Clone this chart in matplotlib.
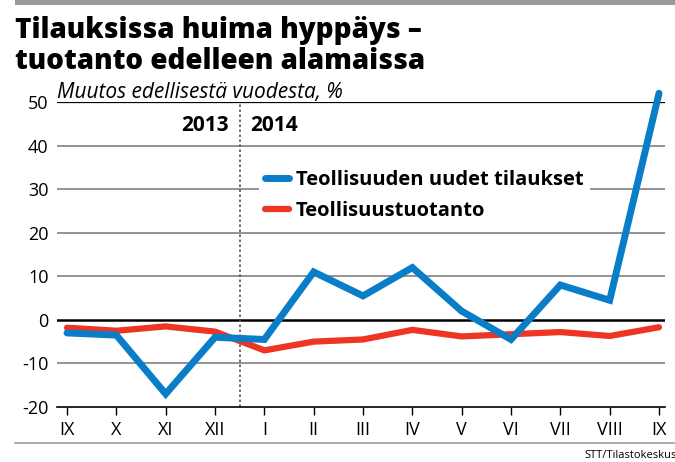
import matplotlib
matplotlib.use("Agg")
import matplotlib.pyplot as plt
from matplotlib.lines import Line2D

# kuukaudet IX/2013 - IX/2014
months = ["IX", "X", "XI", "XII", "I", "II", "III", "IV", "V", "VI", "VII", "VIII", "IX"]
tilaukset = [-3, -3.5, -17, -4, -4.5, 11, 5.5, 12, 2, -4.5, 8, 4.5, 52]
tuotanto = [-1.8, -2.5, -1.5, -2.7, -7, -5, -4.5, -2.3, -3.8, -3.3, -2.8, -3.7, -1.7]
yticks = [-20, -10, 0, 10, 20, 30, 40, 50]

BLUE = "#0a7dc8"
RED = "#ee3524"
GRID = "#8a8a8a"

plt.rcParams['font.family'] = ['Open Sans', 'DejaVu Sans']

fig = plt.figure(figsize=(6.75, 4.62), dpi=100)
ax = fig.add_axes([57/675, 1-407/462, (665-57)/675, (407-102)/462])

x = list(range(len(months)))

# ruudukko
for v in yticks:
    if v == 0:
        ax.axhline(v, color="black", lw=1.8, zorder=1)
    elif v == 50:
        ax.axhline(v, color="black", lw=0.9, zorder=1)
    elif v != -20:
        ax.axhline(v, color=GRID, lw=1.3, zorder=1)

ax.axvline(3.5, color="#555555", lw=1.2, ls=(0, (1.5, 1.5)), zorder=1)

ax.plot(x, tuotanto, color=RED, lw=4.5, solid_joinstyle="miter", solid_capstyle="round", zorder=3, clip_on=False)
ax.plot(x, tilaukset, color=BLUE, lw=5, solid_joinstyle="miter", solid_capstyle="round", zorder=4, clip_on=False)

ax.set_xlim(-10/49.33, 12 + 6/49.33)
ax.set_ylim(-20, 50)
ax.set_xticks(x)
ax.set_xticklabels(months, fontsize=13)
ax.set_yticks(yticks)
ax.set_yticklabels([str(v) for v in yticks], fontsize=13)
for s in ["top", "right", "left"]:
    ax.spines[s].set_visible(False)
ax.spines["bottom"].set_linewidth(1.2)
ax.tick_params(axis="y", length=0, pad=6)
ax.tick_params(axis="x", direction="out", length=6, width=1, pad=4)

ax.text(3.5 - 0.22, 44.5, "2013", ha="right", va="center", fontsize=15, fontweight="bold")
ax.text(3.5 + 0.22, 44.5, "2014", ha="left", va="center", fontsize=15, fontweight="bold")

handles = [Line2D([], [], color=BLUE, lw=5, solid_capstyle="round"),
           Line2D([], [], color=RED, lw=4.5, solid_capstyle="round")]
leg = ax.legend(handles, ["Teollisuuden uudet tilaukset", "Teollisuustuotanto"],
                loc="upper left", bbox_to_anchor=(0.315, 0.83), frameon=True,
                fontsize=14.5, handlelength=1.2, handletextpad=0.35, labelspacing=0.55,
                borderpad=0.3, framealpha=1)
leg.get_frame().set_edgecolor("none")
for t in leg.get_texts():
    t.set_fontweight("bold")

# otsikko
fig.patches.append(plt.Rectangle((15/675, 1 - 5/462), 1, 5/462, transform=fig.transFigure,
                                 color="#9a9a9a", lw=0))
fig.text(15/675, 1 - 38/462, "Tilauksissa huima hyppäys –", fontsize=20, fontweight="heavy",
         ha="left", va="baseline")
fig.text(15/675, 1 - 69/462, "tuotanto edelleen alamaissa", fontsize=20, fontweight="heavy",
         ha="left", va="baseline")
fig.text(57/675, 1 - 98/462, "Muutos edellisestä vuodesta, %", fontsize=15, style="italic",
         ha="left", va="baseline")

fig.lines.append(Line2D([15/675, 1], [1 - 443/462] * 2, transform=fig.transFigure,
                        color="#a0a0a0", lw=1.2))
fig.text(584/675, 1 - 458/462, "STT/Tilastokeskus", fontsize=8, ha="left", va="baseline")

fig.savefig("out.png", dpi=100)
